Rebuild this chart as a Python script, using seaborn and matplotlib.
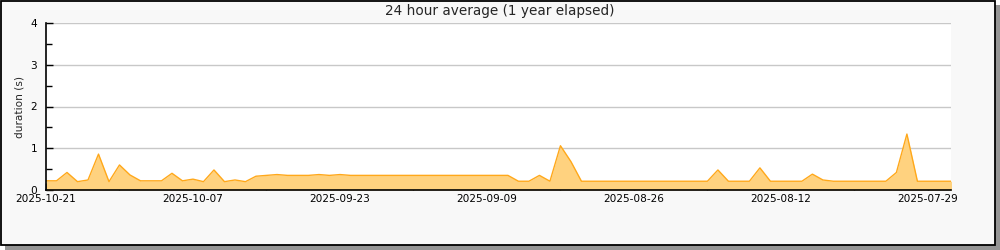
import matplotlib
matplotlib.use("Agg")
import matplotlib.pyplot as plt
import matplotlib.dates as mdates
from matplotlib.patches import Rectangle
from matplotlib.ticker import FixedLocator, MultipleLocator
import numpy as np
import pandas as pd
import seaborn as sns

# ---- data (daily 24h averages, newest first) ----
start_date = "2025-10-21"
durations = [
    0.22, 0.22, 0.42, 0.20, 0.24, 0.86, 0.20, 0.60, 0.36, 0.22,
    0.22, 0.22, 0.40, 0.22, 0.26, 0.20, 0.48, 0.20, 0.24, 0.20,
    0.33, 0.35, 0.37, 0.35, 0.35, 0.35, 0.37, 0.35, 0.37, 0.35,
    0.35, 0.35, 0.35, 0.35, 0.35, 0.35, 0.35, 0.35, 0.35, 0.35,
    0.35, 0.35, 0.35, 0.35, 0.35, 0.21, 0.21, 0.35, 0.21, 1.06,
    0.68, 0.21, 0.21, 0.21, 0.21, 0.21, 0.21, 0.21, 0.21, 0.21,
    0.21, 0.21, 0.21, 0.21, 0.48, 0.21, 0.21, 0.21, 0.53, 0.21,
    0.21, 0.21, 0.21, 0.38, 0.24, 0.21, 0.21, 0.21, 0.21, 0.21,
    0.21, 0.42, 1.34, 0.21, 0.21, 0.21, 0.21, 0.21,
]
tick_labels = ["2025-10-21", "2025-10-07", "2025-09-23", "2025-09-09",
               "2025-08-26", "2025-08-12", "2025-07-29"]
y_ticks = [0, 1, 2, 3, 4]
title = "24 hour average (1 year elapsed)"
y_label = "duration (s)"

dates = pd.date_range(end=pd.Timestamp(start_date), periods=len(durations), freq="D")[::-1]
df = pd.DataFrame({"date": dates, "duration": durations})

sns.set_style("white")
plt.rcParams["font.family"] = ["DejaVu Sans"]

W, H = 1000, 250
fig = plt.figure(figsize=(W / 100, H / 100), dpi=100)
fig.patch.set_facecolor("white")

# shadow and framed background
fig.patches.append(Rectangle((5 / W, 0), 995 / W, 245 / H, transform=fig.transFigure,
                             facecolor="#959595", edgecolor="none", zorder=-3))
fig.patches.append(Rectangle((0.5 / W, 5 / H), 994 / W, 244.5 / H, transform=fig.transFigure,
                             facecolor="#f8f8f8", edgecolor="black", linewidth=1.3, zorder=-2))

left, right, top, bottom = 46, 951, 23, 190
ax = fig.add_axes([left / W, (H - bottom) / H, (right - left) / W, (bottom - top) / H])
ax.set_facecolor("white")

line_col = "#ffa81a"
fill_col = "#ffd27f"
ax.fill_between(df["date"], df["duration"], 0, color=fill_col, linewidth=0, zorder=2)
sns.lineplot(data=df, x="date", y="duration", ax=ax, color=line_col, linewidth=1.0, zorder=3)

ax.set_ylim(0, 4)
t0 = mdates.date2num(pd.Timestamp(start_date))
ax.set_xlim(t0, t0 - 86.2)

major = [mdates.date2num(pd.Timestamp(t)) for t in tick_labels]
minor = [m - 7 for m in major]
ax.xaxis.set_major_locator(FixedLocator(major))
ax.xaxis.set_minor_locator(FixedLocator(minor))
ax.set_xticklabels(tick_labels)
ax.yaxis.set_major_locator(FixedLocator(y_ticks))
ax.yaxis.set_minor_locator(MultipleLocator(0.5))
ax.set_yticklabels([str(v) for v in y_ticks])

ax.tick_params(axis="both", which="both", direction="in", color="black",
               labelsize=7.6, labelcolor="black")
ax.tick_params(axis="x", which="both", length=5, width=1, pad=3)
ax.tick_params(axis="y", which="major", length=5, width=1, pad=6.5)
ax.tick_params(axis="y", which="minor", length=4, width=1)
ax.tick_params(axis="y", which="both", left=True)
ax.tick_params(axis="x", which="both", bottom=True)

ax.grid(axis="y", which="major", color="#c8c8c8", linewidth=1.0, zorder=0)
ax.set_axisbelow(True)
for s in ["top", "right"]:
    ax.spines[s].set_visible(False)
for s in ["left", "bottom"]:
    ax.spines[s].set_color("black")
    ax.spines[s].set_linewidth(1.2)
    ax.spines[s].set_zorder(5)

ax.set_xlabel("")
ax.set_ylabel(y_label, fontsize=7.6, labelpad=4)
fig.text(0.5, 1 - 10.5 / H, title, ha="center", va="center", fontsize=9.8)

fig.savefig("out.png", dpi=100, facecolor=fig.get_facecolor())
